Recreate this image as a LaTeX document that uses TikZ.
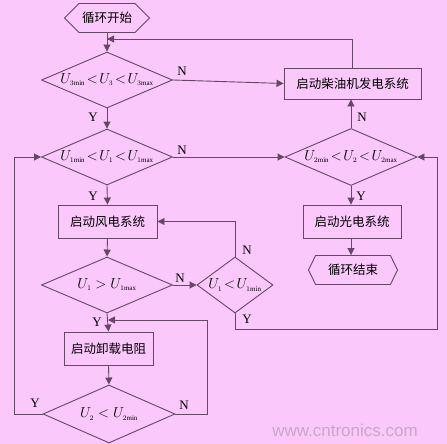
\documentclass[tikz,border=0pt]{standalone}
\usepackage{fontspec}
\setmainfont{Liberation Serif}
\newfontfamily\cjk{Noto Sans CJK SC}
\newfontfamily\wmfont{Liberation Sans}
\usetikzlibrary{shapes.geometric,shapes.symbols,arrows.meta}
\definecolor{bgpink}{RGB}{250,200,250}
\definecolor{linepurple}{RGB}{100,72,100}
\definecolor{markgray}{RGB}{200,168,200}
\newcommand{\Ui}[2]{U_{\scriptscriptstyle #1\mathrm{#2}}}

\begin{document}
\begin{tikzpicture}[x=1pt, y=-1pt,
  wire/.style={draw=linepurple, line width=0.9pt},
  arr/.style={wire, -{Triangle[length=7pt,width=7pt]}},
  proc/.style={wire, rectangle, inner sep=0pt, font=\cjk\fontsize{12.5}{14}\selectfont},
  dia/.style={wire, diamond, inner sep=0pt},
  cond/.style={inner sep=0pt, font=\fontsize{14}{16}\selectfont},
  term/.style={wire, signal, signal to=west and east, inner sep=0pt, minimum height=29pt, font=\cjk\fontsize{12.5}{14}\selectfont},
  yn/.style={inner sep=0pt, font=\fontsize{13}{15}\selectfont}]
  % background
  \fill[bgpink] (0,0) rectangle (447,444);
  \useasboundingbox (0,0) rectangle (447,444);
  % start and end
  \node[term, minimum width=85pt, signal pointer angle=90] (start) at (107,18) {循环开始};
  \node[term, minimum width=89pt, signal pointer angle=128] (stop) at (353,270) {循环结束};
  % decisions
  \node[dia, minimum width=131pt, minimum height=56pt] (d1) at (107,80) {};
  \node[cond] (t1) at (d1) {$\Ui{3}{min}\!<\!U_{\scriptscriptstyle 3}\!<\!\Ui{3}{max}$};
  \node[dia, minimum width=131pt, minimum height=56pt] (d2) at (107,157) {};
  \node[cond] (t2) at (d2) {$\Ui{1}{min}\!<\!U_{\scriptscriptstyle 1}\!<\!\Ui{1}{max}$};
  \node[dia, minimum width=132pt, minimum height=57pt] (d3) at (351,157) {};
  \node[cond] (t3) at (d3) {$\Ui{2}{min}\!<\!U_{\scriptscriptstyle 2}\!<\!\Ui{2}{max}$};
  \node[dia, minimum width=131pt, minimum height=56pt] (d4) at (107,285) {};
  \node[cond] (t4) at (d4) {$U_{\scriptscriptstyle 1}>\Ui{1}{max}$};
  \node[dia, minimum width=76pt, minimum height=56pt] (d5) at (235,285) {};
  \node[cond] (t5) at (d5) {$U_{\scriptscriptstyle 1}\!<\!\Ui{1}{min}$};
  \node[dia, minimum width=132pt, minimum height=58pt] (d6) at (109,414) {};
  \node[cond] (t6) at (d6) {$U_{\scriptscriptstyle 2}<\Ui{2}{min}$};
  % processes
  \node[proc, minimum width=137pt, minimum height=31pt] (diesel) at (352.5,83.5) {启动柴油机发电系统};
  \node[proc, minimum width=98pt, minimum height=33pt] (solar) at (352,221.5) {启动光电系统};
  \node[proc, minimum width=99pt, minimum height=33pt] (wind) at (107.5,221.5) {启动风电系统};
  \node[proc, minimum width=89pt, minimum height=33pt] (load) at (108.5,348.5) {启动卸载电阻};
  % bend points
  \coordinate (j1) at (107,39);
  \coordinate (j2) at (108,320);
  \coordinate (c1) at (437,329);
  \coordinate (c2) at (207,320);
  \coordinate (c3) at (14,414);
  % connectors
  \draw[arr] (start.south) -- (d1.north);
  \draw[arr] (diesel.north) |- (j1);
  \draw[arr] (d1.east) -- (diesel.west);
  \draw[arr] (d1.south) -- (d2.north);
  \draw[arr] (d2.east) -- (d3.west);
  \draw[arr] (d3.north) -- (d3.north |- diesel.south);
  \draw[arr] (d3.south) -- (d3.south |- solar.north);
  \draw[arr] (d3.south |- solar.south) -- (d3.south |- stop.north);
  \draw[arr] (d2.south) -- (wind.north);
  \draw[arr] (wind.south) -- (d4.north);
  \draw[arr] (d4.east) -- (d5.west);
  \draw[arr] (d5.north) |- (wind.east);
  \draw[arr] (d5.south) |- (c1) |- (d3.east);
  \draw[arr] (d4.south) -- (load.north);
  \draw[arr] (load.south) -- (d6.north);
  \draw[arr] (d6.east) -| (c2) -- (j2);
  \draw[arr] (d6.west) -- (c3) |- (d2.west);
  % Y and N
  \node[yn] (n1) at (182,71) {N};
  \node[yn] (y1) at (93,117) {Y};
  \node[yn] (n2) at (182,150) {N};
  \node[yn] (y2) at (93,196) {Y};
  \node[yn] (n3) at (362,117) {N};
  \node[yn] (y3) at (361,196) {Y};
  \node[yn] (n4) at (180,278) {N};
  \node[yn] (y4) at (97,322) {Y};
  \node[yn] (n5) at (247,250) {N};
  \node[yn] (y5) at (247,319) {Y};
  \node[yn] (y6) at (35,403) {Y};
  \node[yn] (n6) at (184,405) {N};
  % watermark
  \node[font=\wmfont\fontsize{17}{20}\selectfont, text=markgray] (wm) at (345,430) {www.cntronics.com};
\end{tikzpicture}
\end{document}
